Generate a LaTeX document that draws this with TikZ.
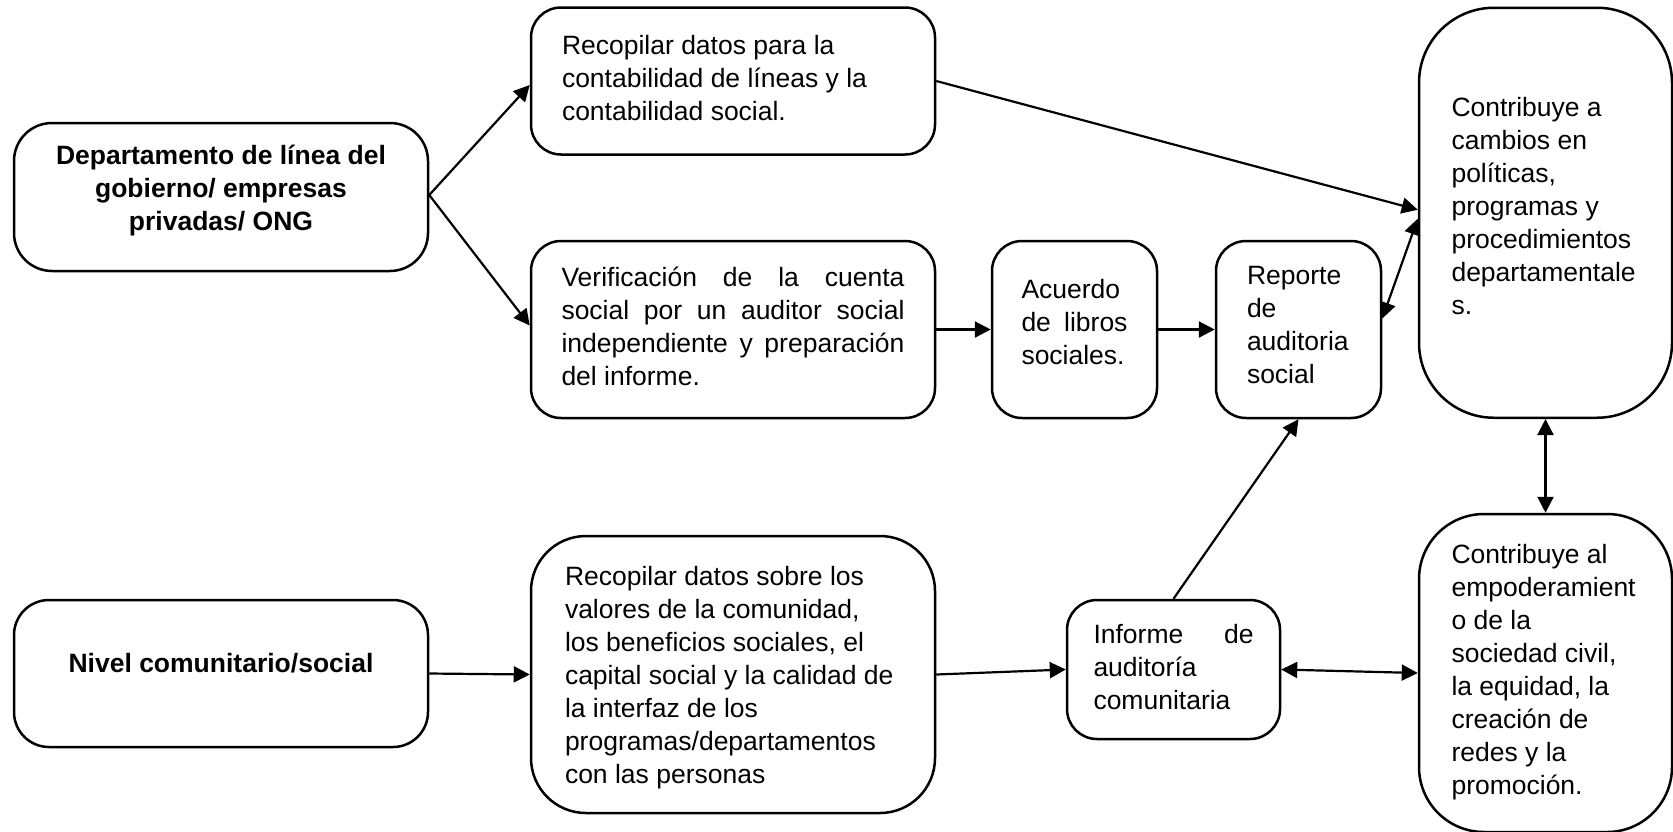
\documentclass[tikz,border=0pt]{standalone}
\usepackage{fontspec}
\setmainfont{Liberation Sans}
\usetikzlibrary{arrows.meta}
\hyphenpenalty=10000
\exhyphenpenalty=10000
\newcommand\mytxt[3]{\raisebox{#1}[\height][\depth]{\parbox{#2}{\raggedright #3}}}
\begin{document}
\begin{tikzpicture}[x=1pt,y=-1pt,
  box/.style={draw, line width=2.5pt, inner sep=0pt, rectangle,
    font=\fontsize{26.5}{33}\selectfont},
  arr/.style={line width=2.2pt, -{Triangle[length=16pt,width=16pt]}},
  darr/.style={line width=2.2pt, {Triangle[length=16pt,width=16pt]}-{Triangle[length=16pt,width=16pt]}}
]
\useasboundingbox (0,0) rectangle (1673,831);

\node[box, rounded corners=38pt, minimum width=414pt, minimum height=148pt, font=\fontsize{26.5}{33}\selectfont\bfseries] (A) at (221,197)
  {\raisebox{6pt}[\height][\depth]{\begin{tabular}{@{}c@{}}Departamento de línea del\\gobierno/ empresas\\privadas/ ONG\end{tabular}}};

\node[box, rounded corners=30pt, minimum width=404pt, minimum height=147pt] (B) at (733,81)
  {\mytxt{3pt}{342pt}{Recopilar datos para la\\contabilidad de líneas y la\\contabilidad social.}};

\node[box, rounded corners=30pt, minimum width=404pt, minimum height=177pt] (C) at (733,329.5)
  {\mytxt{3pt}{343pt}{\makebox[343pt][s]{Verificación\hfill de\hfill la\hfill cuenta}\\\makebox[343pt][s]{social\hfill por\hfill un\hfill auditor\hfill social}\\\makebox[343pt][s]{independiente\hfill y\hfill preparación}\\del informe.}};

\node[box, rounded corners=30pt, minimum width=165pt, minimum height=177pt] (D) at (1074.5,329.5)
  {\mytxt{7.5pt}{106pt}{Acuerdo\\\makebox[106pt][s]{de\hfill libros}\\sociales.}};

\node[box, rounded corners=30pt, minimum width=165pt, minimum height=177pt] (E) at (1298.5,329.5)
  {\mytxt{4pt}{103pt}{Reporte\\de\\auditoria\\social}};

\node[box, rounded corners=75pt, minimum width=253pt, minimum height=410pt] (F) at (1545.5,212.75)
  {\mytxt{6.5pt}{188pt}{Contribuye a\\cambios en\\políticas,\\programas y\\procedimientos\\departamentale\\s.}};

\node[box, rounded corners=35pt, minimum width=414pt, minimum height=147pt, font=\fontsize{26.5}{33}\selectfont\bfseries] (G) at (221,673.5)
  {\raisebox{10pt}[\height][\depth]{Nivel comunitario/social}};

\node[box, rounded corners=55pt, minimum width=404pt, minimum height=277pt] (H) at (733,674.5)
  {\mytxt{-3pt}{336pt}{Recopilar datos sobre los\\valores de la comunidad,\\los beneficios sociales, el\\capital social y la calidad de\\la interfaz de los\\programas/departamentos\\con las personas}};

\node[box, rounded corners=30pt, minimum width=213pt, minimum height=139pt] (I) at (1173.5,669.5)
  {\mytxt{2pt}{160pt}{\makebox[160pt][s]{Informe\hfill de}\\auditoría\\comunitaria}};

\node[box, rounded corners=65pt, minimum width=253pt, minimum height=318pt] (J) at (1545.5,673)
  {\mytxt{1pt}{188pt}{Contribuye al\\empoderamient\\o de la\\sociedad civil,\\la equidad, la\\creación de\\redes y la\\promoción.}};

\draw[arr] ([yshift=2pt]A.east) -- ([yshift=-4pt]B.west);
\draw[arr] ([yshift=2pt]A.east) -- ([yshift=4pt]C.west);
\draw[arr] (B.east) -- ([yshift=3pt]F.west);
\draw[darr] ([yshift=11pt]E.east) -- ([yshift=-6pt]F.west);
\draw[arr] (C.east) -- (D.west);
\draw[arr] (D.east) -- (E.west);
\draw[arr] (I.north) -- (E.south);
\draw[darr] (F.south) -- (J.north);
\draw[arr] (G.east) -- (H.west);
\draw[arr] (H.east) -- (I.west);
\draw[darr] (I.east) -- (J.west);
\end{tikzpicture}
\end{document}
